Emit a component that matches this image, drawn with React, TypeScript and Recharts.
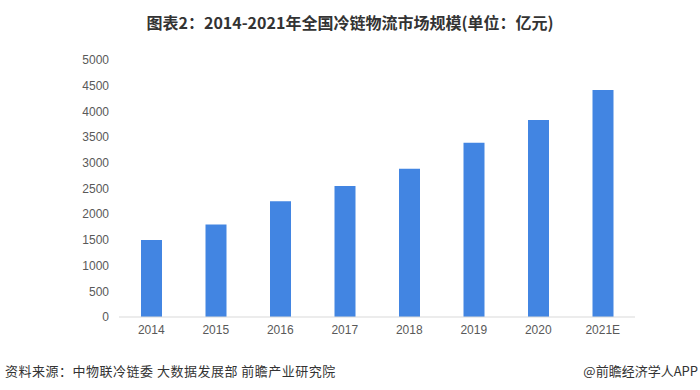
import { BarChart, Bar, XAxis, YAxis } from 'recharts'

const years = ['2014', '2015', '2016', '2017', '2018', '2019', '2020', '2021E']
const marketSize = [1500, 1800, 2250, 2550, 2886, 3391, 3832, 4418]
const yTicks = [0, 500, 1000, 1500, 2000, 2500, 3000, 3500, 4000, 4500, 5000]

const data = years.map((year, i) => ({ year, value: marketSize[i] }))

const font = '"Noto Sans CJK SC", "Noto Sans", sans-serif'
const numFont = '"Liberation Sans", Arial, sans-serif'

export default function App() {
  return (
    <div
      style={{
        position: 'absolute',
        left: 0,
        top: 0,
        width: 700,
        height: 390,
        background: '#fff',
        fontFamily: font,
      }}
    >
      <div
        style={{
          position: 'absolute',
          top: 10,
          left: 0,
          width: 700,
          textAlign: 'center',
          fontSize: 16,
          fontWeight: 'bold',
          color: '#333',
          lineHeight: '24px',
        }}
      >
        图表2：2014-2021年全国冷链物流市场规模(单位：亿元)
      </div>

      <BarChart
        width={700}
        height={390}
        data={data}
        margin={{ top: 60, right: 65, bottom: 43, left: 59 }}
      >
        <XAxis
          dataKey="year"
          height={30}
          axisLine={{ stroke: '#d9d9d9' }}
          tickLine={false}
          tick={{ fill: '#595959', fontSize: 12, fontFamily: numFont }}
        />
        <YAxis
          width={60}
          domain={[0, 5000]}
          ticks={yTicks}
          interval={0}
          axisLine={false}
          tickLine={false}
          tickMargin={4}
          tick={{ fill: '#595959', fontSize: 12, fontFamily: numFont }}
        />
        <Bar dataKey="value" fill="#4285e2" barSize={21} isAnimationActive={false} />
      </BarChart>

      <div
        style={{
          position: 'absolute',
          left: 5,
          top: 361,
          fontSize: 13,
          letterSpacing: 0.5,
          color: '#333',
          lineHeight: '20px',
        }}
      >
        资料来源：中物联冷链委 大数据发展部 前瞻产业研究院
      </div>
      <div
        style={{
          position: 'absolute',
          right: 2,
          top: 361,
          fontSize: 13,
          color: '#333',
          lineHeight: '20px',
        }}
      >
        @前瞻经济学人APP
      </div>
    </div>
  )
}
